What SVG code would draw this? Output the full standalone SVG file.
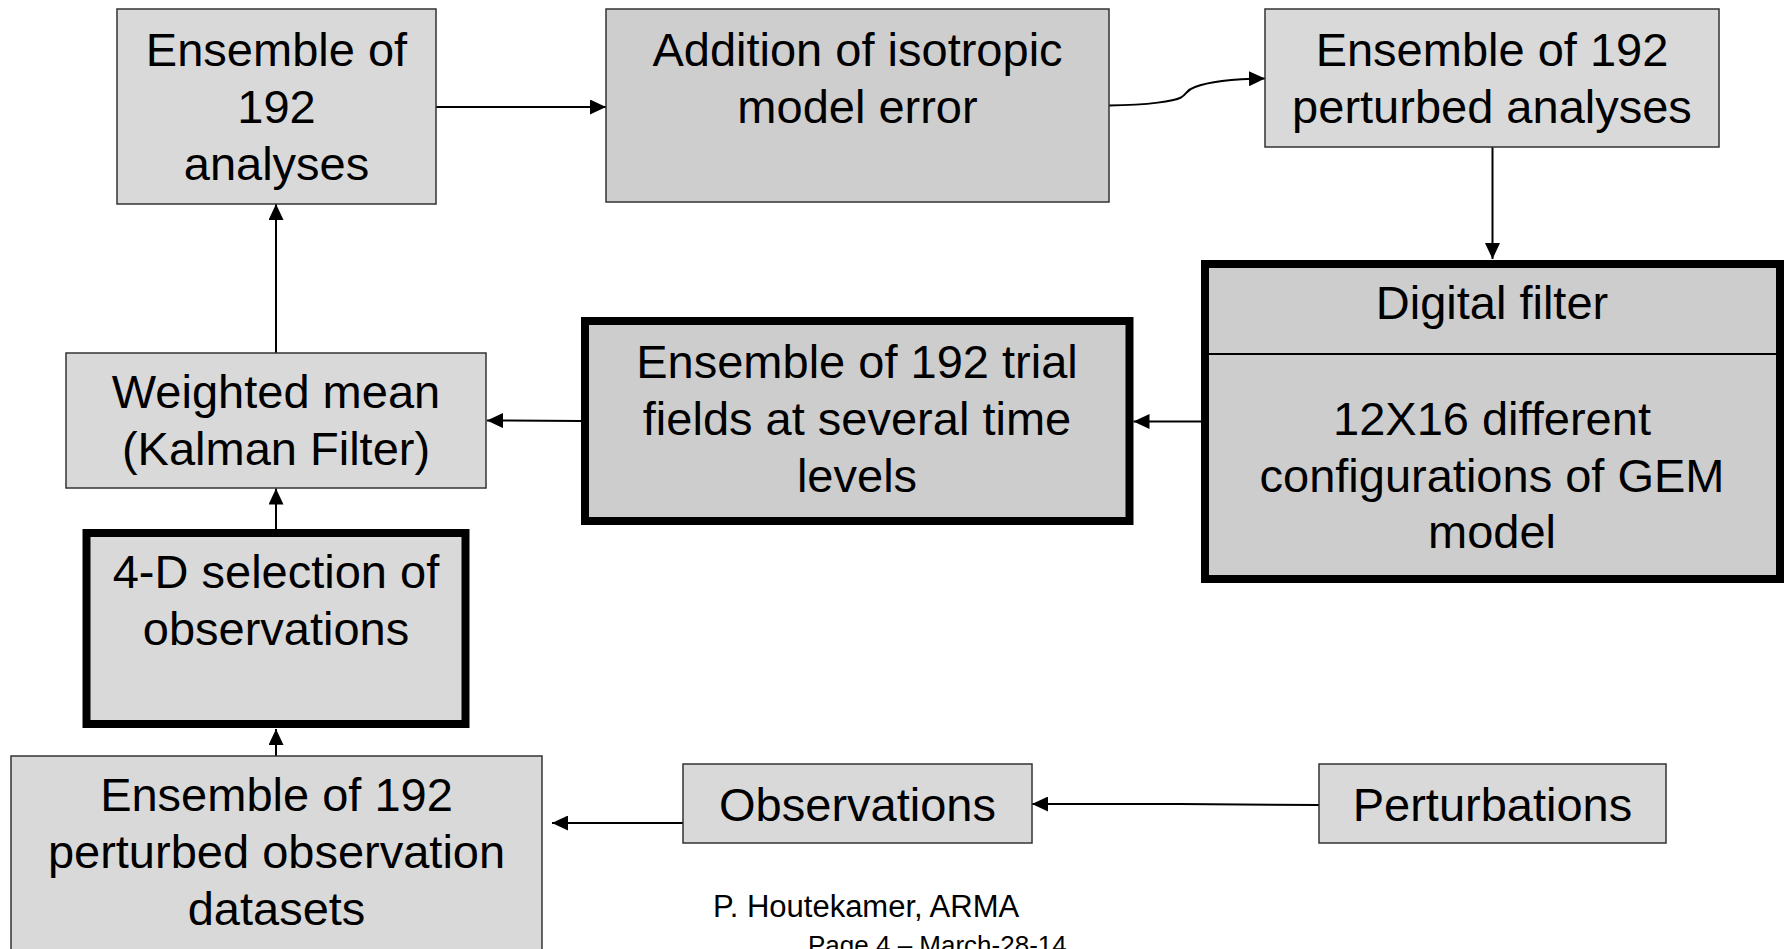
<svg xmlns="http://www.w3.org/2000/svg" width="1784" height="949" viewBox="0 0 1784 949">
<style>
.t{font-family:"Liberation Sans",Arial,sans-serif;font-size:47px;fill:#000;text-anchor:middle}
.f{font-family:"Liberation Sans",Arial,sans-serif;fill:#000}
.light{fill:#d9d9d9;stroke:#333;stroke-width:1.5}
.dark{fill:#cecece;stroke:#333;stroke-width:1.5}
.thick{fill:#cdcdcd;stroke:#000;stroke-width:8}
.thick2{fill:#d9d9d9;stroke:#000;stroke-width:8}
.c{fill:none;stroke:#000;stroke-width:2;marker-end:url(#ah)}
</style>
<defs>
<marker id="ah" markerUnits="userSpaceOnUse" markerWidth="16" markerHeight="15" refX="16" refY="7.5" orient="auto">
<path d="M0,0 L16,7.5 L0,15 z" fill="#000"/>
</marker>
</defs>
<rect width="1784" height="949" fill="#fff"/>
<g id="connectors">
<path class="c" d="M436,107 L606,107"/>
<path class="c" d="M1109,105.5 C1150,105 1174,101 1181,97.5 C1187,94 1186,90 1195,87 C1210,81 1235,79 1265,78.5"/>
<path class="c" d="M1492.5,147 L1492.5,259"/>
<path class="c" d="M1201,421.5 L1133.5,421.5"/>
<path class="c" d="M581,421 L487,420.5"/>
<path class="c" d="M276,529 L276,488.5"/>
<path class="c" d="M276,756 L276,729"/>
<path class="c" d="M276,353 L276,204"/>
<path class="c" d="M683,823 L552,823"/>
<path class="c" d="M1319,805 L1180,804 L1032,804"/>
</g>
<g id="n-ensemble-analyses">
<rect class="light" x="117" y="9" width="319" height="195"/>
<text class="t" x="276.5" y="66">Ensemble of</text>
<text class="t" x="276.5" y="123">192</text>
<text class="t" x="276.5" y="180">analyses</text>
</g>
<g id="n-addition">
<rect class="dark" x="606" y="9" width="503" height="193"/>
<text class="t" x="857.5" y="66">Addition of isotropic</text>
<text class="t" x="857.5" y="123">model error</text>
</g>
<g id="n-perturbed-analyses">
<rect class="light" x="1265" y="9" width="454" height="138"/>
<text class="t" x="1492" y="66">Ensemble of 192</text>
<text class="t" x="1492" y="123">perturbed analyses</text>
</g>
<g id="n-digital-filter">
<rect class="thick" x="1205" y="264" width="575" height="315"/>
<line x1="1209" y1="354" x2="1776" y2="354" stroke="#000" stroke-width="2"/>
<text class="t" x="1492" y="319">Digital filter</text>
<text class="t" x="1492" y="435">12X16 different</text>
<text class="t" x="1492" y="491.5">configurations of GEM</text>
<text class="t" x="1492" y="548">model</text>
</g>
<g id="n-trial-fields">
<rect class="thick" x="585" y="321" width="544.5" height="200"/>
<text class="t" x="857" y="378">Ensemble of 192 trial</text>
<text class="t" x="857" y="435">fields at several time</text>
<text class="t" x="857" y="492">levels</text>
</g>
<g id="n-weighted-mean">
<rect class="light" x="66" y="353" width="420" height="135"/>
<text class="t" x="276" y="408">Weighted mean</text>
<text class="t" x="276" y="465">(Kalman Filter)</text>
</g>
<g id="n-selection">
<rect class="thick2" x="86.5" y="533" width="379" height="191"/>
<text class="t" x="276" y="588">4-D selection of</text>
<text class="t" x="276" y="645">observations</text>
</g>
<g id="n-perturbed-obs">
<rect class="light" x="11" y="756" width="531" height="220"/>
<text class="t" x="276.5" y="811">Ensemble of 192</text>
<text class="t" x="276.5" y="868">perturbed observation</text>
<text class="t" x="276.5" y="925">datasets</text>
</g>
<g id="n-observations">
<rect class="light" x="683" y="764" width="349" height="79"/>
<text class="t" x="857.5" y="821">Observations</text>
</g>
<g id="n-perturbations">
<rect class="light" x="1319" y="764" width="347" height="79"/>
<text class="t" x="1492.5" y="821">Perturbations</text>
</g>
<g id="footer">
<text class="f" x="713" y="917" font-size="31">P. Houtekamer, ARMA</text>
<text class="f" x="808" y="954" font-size="26">Page 4 – March-28-14</text>
</g>
</svg>
